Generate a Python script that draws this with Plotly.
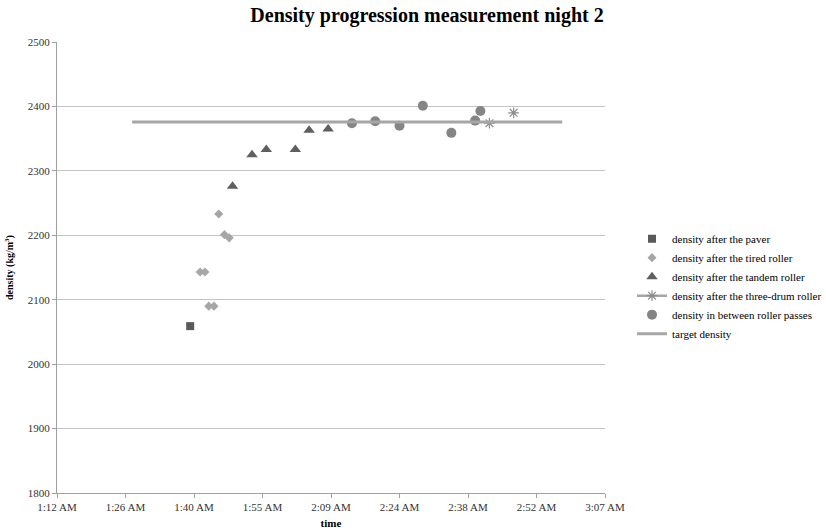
import plotly.graph_objects as go

# time values in minutes after midnight
paver_t = [100.0]
paver_d = [2059]
tired_t = [102.1, 103.1, 103.9, 105.0, 106.0, 107.2, 108.2]
tired_d = [2143, 2143, 2090, 2090, 2233, 2201, 2196]
tandem_t = [108.9, 113.0, 116.0, 122.1, 125.0, 129.0]
tandem_d = [2276, 2325, 2333, 2333, 2363, 2365]
drum_t = [162.9, 168.0]
drum_d = [2374, 2390]
between_t = [134.0, 138.9, 144.0, 148.9, 154.9, 159.9, 161.0]
between_d = [2374, 2377, 2370, 2401, 2359, 2378, 2393]
target_t = [87.8, 178.2]
target_d = [2376, 2376]

tick_minutes = [72, 86.4, 100.8, 115.2, 129.6, 144, 158.4, 172.8, 187.2]
tick_labels = ["1:12 AM", "1:26 AM", "1:40 AM", "1:55 AM", "2:09 AM",
               "2:24 AM", "2:38 AM", "2:52 AM", "3:07 AM"]


def to_dt(m):
    s = round(m * 60)
    h, rem = divmod(s, 3600)
    mi, se = divmod(rem, 60)
    return f"2000-01-01 {h:02d}:{mi:02d}:{se:02d}"


def conv(lst):
    return [to_dt(m) for m in lst]


FONT = "Liberation Serif"
fig = go.Figure()

fig.add_trace(go.Scatter(x=conv(paver_t), y=paver_d, mode="markers",
                         name="density after the paver",
                         marker=dict(symbol="square", size=8, color="#5a5a5a")))
fig.add_trace(go.Scatter(x=conv(tired_t), y=tired_d, mode="markers",
                         name="density after the tired roller",
                         marker=dict(symbol="diamond", size=7, color="#a6a6a6")))
fig.add_trace(go.Scatter(x=conv(tandem_t), y=tandem_d, mode="markers",
                         name="density after the tandem roller",
                         marker=dict(symbol="triangle-up", size=10, color="#5f5f5f")))
fig.add_trace(go.Scatter(x=conv(drum_t), y=drum_d, mode="markers",
                         name="density after the three-drum roller",
                         legendgroup="drum", showlegend=False,
                         marker=dict(symbol="asterisk-open", size=9, color="#8c8c8c",
                                     line=dict(color="#8c8c8c", width=1.2))))
fig.add_trace(go.Scatter(x=[None], y=[None], mode="lines+markers",
                         name="density after the three-drum roller",
                         legendgroup="drum",
                         line=dict(color="#a6a6a6", width=2.5),
                         marker=dict(symbol="asterisk-open", size=9, color="#8c8c8c",
                                     line=dict(color="#8c8c8c", width=1.2))))
fig.add_trace(go.Scatter(x=conv(between_t), y=between_d, mode="markers",
                         name="density in between roller passes",
                         marker=dict(symbol="circle", size=10, color="#858585")))
fig.add_trace(go.Scatter(x=conv(target_t), y=target_d, mode="lines",
                         name="target density",
                         line=dict(color="#a6a6a6", width=3)))

fig.update_layout(
    width=826, height=532,
    margin=dict(l=57, r=221, t=42, b=39, autoexpand=False),
    paper_bgcolor="white", plot_bgcolor="white",
    font=dict(family=FONT, size=11, color="#404040"),
    title=dict(text="<b>Density progression measurement night 2</b>",
               x=427 / 826, xanchor="center", y=1 - 15 / 532, yanchor="middle",
               font=dict(family=FONT, size=20, color="black")),
    showlegend=True,
    legend=dict(xref="container", x=632 / 826, xanchor="left",
                y=1 - 288 / 532, yanchor="middle",
                font=dict(family=FONT, size=11, color="black"),
                bgcolor="rgba(0,0,0,0)", tracegroupgap=0, itemwidth=30),
    xaxis=dict(
        type="date", automargin=False,
        range=[to_dt(tick_minutes[0]), to_dt(tick_minutes[-1])],
        tickvals=conv(tick_minutes), ticktext=tick_labels,
        showgrid=False, zeroline=False,
        showline=True, linecolor="#a0a0a0", linewidth=1,
        ticks="outside", ticklen=4, tickcolor="#a0a0a0",
        tickfont=dict(family=FONT, size=11, color="#333333"),
        title=dict(text="<b>time</b>", standoff=7,
                   font=dict(family=FONT, size=11, color="black")),
    ),
    yaxis=dict(
        range=[1800, 2500], dtick=100, tick0=1800, automargin=False,
        showgrid=True, gridcolor="#c4c4c4", gridwidth=1,
        zeroline=False,
        showline=True, linecolor="#a0a0a0", linewidth=1,
        ticks="outside", ticklen=4, tickcolor="#a0a0a0",
        tickfont=dict(family=FONT, size=11, color="#333333"),
        title=dict(text="<b>density (kg/m<sup>3</sup>)</b>", standoff=12,
                   font=dict(family=FONT, size=10, color="black")),
    ),
)

fig.write_html("out.html")
